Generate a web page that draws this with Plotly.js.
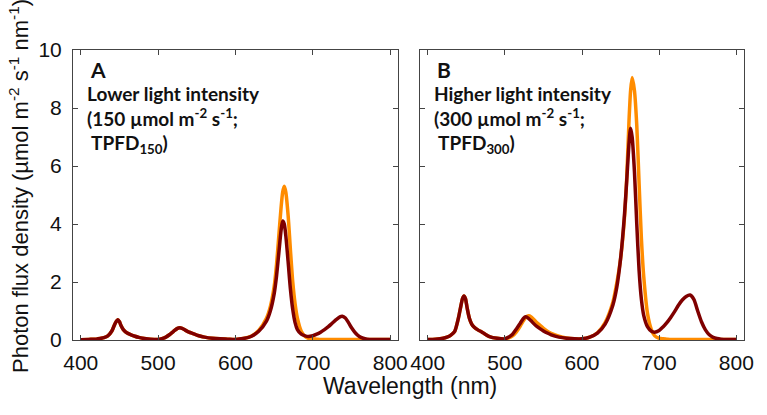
<!DOCTYPE html>
<html>
<head>
<meta charset="utf-8">
<script src="https://cdn.plot.ly/plotly-3.0.1.min.js"></script>
<style>
  body { margin: 0; background: #fff; }
  #plot { width: 767px; height: 415px; }
</style>
</head>
<body>
<div id="plot"></div>
<script>
/* Spectra, wavelength in nm, photon flux density in umol m-2 s-1 nm-1 */

// panel A (TPFD 150)
var wlA_blue  = [400, 410, 420, 425, 430, 435, 440, 443, 445, 448, 450, 452, 455, 460, 465, 470, 475, 480, 490];
var a_blue    = [0.01, 0.02, 0.03, 0.05, 0.08, 0.14, 0.3, 0.48, 0.6, 0.7, 0.63, 0.5, 0.36, 0.24, 0.18, 0.13, 0.09, 0.06, 0.03];
var wlA_green = [500, 505, 510, 515, 520, 525, 528, 531, 535, 540, 545, 550, 555, 560, 570, 580, 590];
var a_green   = [0.02, 0.05, 0.1, 0.19, 0.3, 0.4, 0.42, 0.4, 0.34, 0.27, 0.22, 0.17, 0.13, 0.1, 0.06, 0.04, 0.03];
var wlA_red   = [600, 610, 620, 630, 640, 645, 650, 653, 656, 659, 661, 663, 665, 668, 671, 674, 677, 680, 685, 690, 694];
var a_redOrange = [0.02, 0.05, 0.13, 0.33, 0.75, 1.15, 1.85, 2.6, 3.6, 4.6, 5.1, 5.3, 5.1, 4.3, 3.1, 2.0, 1.25, 0.75, 0.3, 0.12, 0.06];
var a_redDark   = [0.02, 0.05, 0.12, 0.3, 0.65, 1.0, 1.6, 2.2, 3.0, 3.8, 4.1, 4.0, 3.6, 2.7, 1.75, 1.05, 0.6, 0.36, 0.2, 0.14, 0.12];
var wlA_far   = [700, 705, 710, 715, 720, 725, 730, 735, 738, 742, 746, 750, 755, 760, 765, 770, 780, 790, 800];
var a_farOrange = [0.04, 0.03, 0.02, 0.02, 0.02, 0.02, 0.02, 0.02, 0.02, 0.02, 0.02, 0.02, 0.02, 0.02, 0.02, 0.02, 0.02, 0.02, 0.02];
var a_farDark   = [0.15, 0.2, 0.27, 0.36, 0.46, 0.58, 0.7, 0.8, 0.82, 0.76, 0.6, 0.42, 0.24, 0.12, 0.06, 0.03, 0.02, 0.02, 0.02];

// panel B (TPFD 300)
var wlB_blue  = [400, 410, 420, 425, 430, 435, 440, 443, 445, 447, 449, 451, 454, 457, 460, 465, 470, 475, 480, 490];
var b_blue    = [0.02, 0.03, 0.06, 0.1, 0.17, 0.3, 0.78, 1.18, 1.42, 1.52, 1.42, 1.12, 0.75, 0.55, 0.45, 0.35, 0.28, 0.19, 0.12, 0.06];
var wlB_green = [500, 505, 510, 515, 520, 524, 527, 531, 534, 540, 545, 550, 555, 560, 570, 580, 590];
var b_greenDark   = [0.04, 0.1, 0.2, 0.38, 0.58, 0.74, 0.8, 0.74, 0.66, 0.5, 0.4, 0.31, 0.24, 0.18, 0.1, 0.06, 0.04];
var b_greenOrange = [0.04, 0.07, 0.14, 0.28, 0.48, 0.66, 0.78, 0.84, 0.8, 0.64, 0.52, 0.4, 0.3, 0.23, 0.13, 0.07, 0.04];
var wlB_red   = [600, 610, 620, 630, 640, 645, 650, 655, 658, 661, 663, 665, 668, 671, 674, 677, 680, 685, 690, 694];
var b_redOrange = [0.04, 0.1, 0.25, 0.6, 1.3, 1.95, 2.8, 4.2, 5.6, 7.6, 8.6, 9.05, 8.6, 7.4, 5.4, 3.5, 2.2, 0.9, 0.35, 0.15];
var b_redDark   = [0.04, 0.1, 0.24, 0.55, 1.2, 1.8, 2.8, 4.3, 5.5, 6.8, 7.3, 7.0, 5.8, 4.0, 2.4, 1.4, 0.85, 0.45, 0.3, 0.27];
var wlB_far   = [700, 705, 710, 715, 720, 725, 730, 735, 740, 745, 750, 755, 760, 765, 770, 775, 780, 790, 800];
var b_farOrange = [0.06, 0.04, 0.03, 0.02, 0.02, 0.02, 0.02, 0.02, 0.02, 0.02, 0.02, 0.02, 0.02, 0.02, 0.02, 0.02, 0.02, 0.02, 0.02];
var b_farDark   = [0.33, 0.45, 0.6, 0.78, 0.98, 1.2, 1.38, 1.5, 1.55, 1.4, 1.0, 0.62, 0.35, 0.18, 0.09, 0.05, 0.03, 0.02, 0.02];

var xTicks = [400, 500, 600, 700, 800];
var yTicks = [0, 2, 4, 6, 8, 10];

var orange = '#ff8c00';
var maroon = '#7f0000';

function curve(x, y, color, xa, ya) {
  return {
    x: x, y: y, xaxis: xa, yaxis: ya,
    type: 'scatter', mode: 'lines',
    line: { color: color, width: 3.5, shape: 'spline', smoothing: 0.7 },
    hoverinfo: 'skip', showlegend: false
  };
}

var wlA = wlA_blue.concat(wlA_green, wlA_red, wlA_far);
var wlB = wlB_blue.concat(wlB_green, wlB_red, wlB_far);

var data = [
  curve(wlA, a_blue.concat(a_green, a_redOrange, a_farOrange), orange, 'x', 'y'),
  curve(wlA, a_blue.concat(a_green, a_redDark, a_farDark), maroon, 'x', 'y'),
  curve(wlB, b_blue.concat(b_greenOrange, b_redOrange, b_farOrange), orange, 'x2', 'y2'),
  curve(wlB, b_blue.concat(b_greenDark, b_redDark, b_farDark), maroon, 'x2', 'y2')
];

var sans = 'Liberation Sans';
var labelFont = 'Lato';

function xAxis(domain, anchor) {
  return {
    domain: domain, anchor: anchor, range: [390, 810],
    tickvals: xTicks, ticks: 'inside', ticklen: 5, tickcolor: '#444',
    mirror: 'ticks', showline: true, linecolor: '#444', linewidth: 1,
    showgrid: false, zeroline: false, ticklabelstandoff: 4,
    tickfont: { family: sans, size: 21, color: '#111' }
  };
}
function yAxis(domain, anchor, labels) {
  return {
    domain: domain, anchor: anchor, range: [0, 10],
    tickvals: yTicks, ticks: 'inside', ticklen: 5, tickcolor: '#444',
    mirror: 'ticks', showline: true, linecolor: '#444', linewidth: 1,
    showgrid: false, zeroline: false, showticklabels: labels, ticklabelstandoff: 6,
    tickfont: { family: sans, size: 21, color: '#111' }
  };
}

var yDom = [1 - 340 / 415, 1 - 50 / 415];

var layout = {
  width: 767, height: 415,
  margin: { l: 0, r: 0, t: 0, b: 0 },
  paper_bgcolor: '#fff', plot_bgcolor: '#fff',
  font: { family: sans },
  showlegend: false,
  xaxis: xAxis([73 / 767, 398 / 767], 'y'),
  yaxis: yAxis(yDom, 'x', true),
  xaxis2: xAxis([420 / 767, 744 / 767], 'y2'),
  yaxis2: yAxis(yDom, 'x2', false),
  annotations: [
    { text: 'Wavelength (nm)', xref: 'paper', yref: 'paper', x: 410 / 767, y: 1 - 386 / 415,
      showarrow: false, xanchor: 'center', yanchor: 'middle',
      font: { family: sans, size: 23, color: '#111' } },
    { text: 'Photon flux density (\u00b5mol m<sup>-2</sup> s<sup>-1</sup> nm<sup>-1</sup>)',
      xref: 'paper', yref: 'paper', x: 19 / 767, y: 1 - 186 / 415, textangle: -90,
      showarrow: false, xanchor: 'center', yanchor: 'middle',
      font: { family: sans, size: 22, color: '#111' } },
    { text: '<b>A</b>', xref: 'paper', yref: 'paper', x: 88 / 767, y: 1 - 69 / 415,
      showarrow: false, xanchor: 'left', yanchor: 'middle',
      font: { family: labelFont, size: 21, color: '#111' } },
    { text: '<b>Lower light intensity<br>(150 \u00b5mol m<sup>-2</sup> s<sup>-1</sup>;<br>\u00a0TPFD<sub>150</sub>)</b>',
      xref: 'paper', yref: 'paper', x: 85 / 767, y: 1 - 80 / 415,
      showarrow: false, xanchor: 'left', yanchor: 'top', align: 'left',
      font: { family: labelFont, size: 19, color: '#111' } },
    { text: '<b>B</b>', xref: 'paper', yref: 'paper', x: 435 / 767, y: 1 - 69 / 415,
      showarrow: false, xanchor: 'left', yanchor: 'middle',
      font: { family: labelFont, size: 21, color: '#111' } },
    { text: '<b>Higher light intensity<br>(300 \u00b5mol m<sup>-2</sup> s<sup>-1</sup>;<br>\u00a0TPFD<sub>300</sub>)</b>',
      xref: 'paper', yref: 'paper', x: 432 / 767, y: 1 - 80 / 415,
      showarrow: false, xanchor: 'left', yanchor: 'top', align: 'left',
      font: { family: labelFont, size: 19, color: '#111' } }
  ]
};

Plotly.newPlot('plot', data, layout, { staticPlot: true, displayModeBar: false });
</script>
</body>
</html>
